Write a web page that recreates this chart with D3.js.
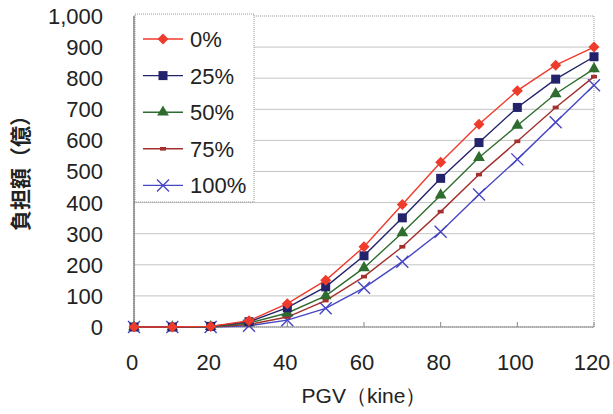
<!DOCTYPE html>
<html><head><meta charset="utf-8">
<script src="https://cdn.jsdelivr.net/npm/d3@7"></script>
<style>body{margin:0;background:#fff}svg{display:block}text{font-family:"Liberation Sans",Arial,sans-serif}</style>
</head><body>
<script>
const pgv = [0,10,20,30,40,50,60,70,80,90,100,110,120];
const s0   = [0,0,2,20,75,150,258,394,530,652,760,842,900];
const s25  = [0,0,2,17,62,129,229,351,478,593,706,797,869];
const s50  = [0,0,1,13,45,100,190,303,424,545,648,750,830];
const s75  = [0,0,1,8,32,85,162,258,371,490,597,706,805];
const s100 = [0,0,0,4,22,60,126,210,306,426,539,658,777];
const seriesNames = ["0%","25%","50%","75%","100%"];
const xTicks = [0,20,40,60,80,100,120];
const yTicks = [0,100,200,300,400,500,600,700,800,900,1000];
const xTitle = "PGV（kine）";
const yTitle = "負担額（億）";

const W=613,H=414;
const svg=d3.select("body").append("svg").attr("width",W).attr("height",H);
const x=d3.scaleLinear().domain([0,120]).range([134,594]);
const y=d3.scaleLinear().domain([0,1000]).range([327,16]);

const series=[
 {name:seriesNames[0],vals:s0,color:"#ee3b2c",shape:"diamond"},
 {name:seriesNames[1],vals:s25,color:"#23236b",shape:"square"},
 {name:seriesNames[2],vals:s50,color:"#2f6d2f",shape:"triangle"},
 {name:seriesNames[3],vals:s75,color:"#a3302c",shape:"dash"},
 {name:seriesNames[4],vals:s100,color:"#4646c4",shape:"x"}
];

// gridlines
svg.append("g").selectAll("line").data(yTicks.filter(t=>t>0&&t<1000)).join("line")
 .attr("x1",x(0)).attr("x2",x(120)).attr("y1",d=>y(d)).attr("y2",d=>y(d))
 .attr("stroke","#c4c4c4").attr("stroke-width",1);
// frame
svg.append("rect").attr("x",x(0)).attr("y",y(1000)).attr("width",x(120)-x(0)).attr("height",y(0)-y(1000))
 .attr("fill","none").attr("stroke","#999").attr("stroke-dasharray","1,1");
// axes lines
svg.append("line").attr("x1",x(0)).attr("x2",x(0)).attr("y1",y(0)).attr("y2",y(1000)).attr("stroke","#555");
svg.append("line").attr("x1",x(0)).attr("x2",x(120)).attr("y1",y(0)).attr("y2",y(0)).attr("stroke","#888");
// x ticks (inside)
svg.append("g").selectAll("line").data(xTicks).join("line")
 .attr("x1",d=>x(d)).attr("x2",d=>x(d)).attr("y1",y(0)).attr("y2",y(0)-5).attr("stroke","#888");

// tick labels
const fmt=d3.format(",");
svg.append("g").selectAll("text").data(yTicks).join("text")
 .attr("x",103).attr("y",d=>y(d)).attr("dy","0.36em").attr("text-anchor","end")
 .attr("font-size",22).attr("fill","#222").text(d=>fmt(d));
svg.append("g").selectAll("text").data(xTicks).join("text")
 .attr("x",d=>x(d)-2).attr("y",362).attr("dy","0.36em").attr("text-anchor","middle")
 .attr("font-size",22).attr("fill","#222").text(d=>d);
svg.append("text").attr("x",364).attr("y",395).attr("dy","0.36em").attr("text-anchor","middle")
 .attr("font-size",21).attr("fill","#222").text(xTitle);
svg.append("text").attr("transform","translate(20,168) rotate(-90)").attr("dy","0.36em").attr("text-anchor","middle")
 .attr("font-size",21).attr("font-weight","bold").attr("fill","#222")
 .style("font-family","'Noto Sans CJK JP',sans-serif").text(yTitle);

function marker(g,shape,color,cx,cy){
  if(shape==="diamond"){
    const r=5.5;
    g.append("path").attr("d",`M${cx},${cy-r}L${cx+r},${cy}L${cx},${cy+r}L${cx-r},${cy}Z`).attr("fill",color);
  }else if(shape==="square"){
    g.append("rect").attr("x",cx-4.5).attr("y",cy-4.5).attr("width",9).attr("height",9).attr("fill",color);
  }else if(shape==="triangle"){
    g.append("path").attr("d",d3.symbol(d3.symbolTriangle,60)()).attr("transform",`translate(${cx},${cy})`).attr("fill",color);
  }else if(shape==="dash"){
    g.append("rect").attr("x",cx-3).attr("y",cy-1.8).attr("width",6).attr("height",3.6).attr("fill",color);
  }else if(shape==="x"){
    g.append("path").attr("d",`M${cx-6},${cy-6}L${cx+6},${cy+6}M${cx-6},${cy+6}L${cx+6},${cy-6}`)
     .attr("stroke",color).attr("stroke-width",1.4).attr("fill","none");
  }
}

const line=d3.line().x((d,i)=>x(pgv[i])).y(d=>y(d));
[...series].reverse().forEach(s=>{
  const g=svg.append("g");
  g.append("path").attr("d",line(s.vals)).attr("fill","none").attr("stroke",s.color).attr("stroke-width",1.4);
  s.vals.forEach((v,i)=>marker(g,s.shape,s.color,x(pgv[i]),y(v)));
});

// legend
const lg=svg.append("g");
lg.append("rect").attr("x",135).attr("y",14).attr("width",119).attr("height",188)
 .attr("fill","#fff").attr("stroke","#999").attr("stroke-dasharray","1,1");
series.forEach((s,i)=>{
  const cy=39+i*36.6;
  lg.append("line").attr("x1",143).attr("x2",183).attr("y1",cy).attr("y2",cy).attr("stroke",s.color).attr("stroke-width",1.4);
  marker(lg,s.shape,s.color,163,cy);
  lg.append("text").attr("x",190).attr("y",cy).attr("dy","0.36em").attr("font-size",22).attr("fill","#222").text(s.name);
});
</script>
</body></html>
